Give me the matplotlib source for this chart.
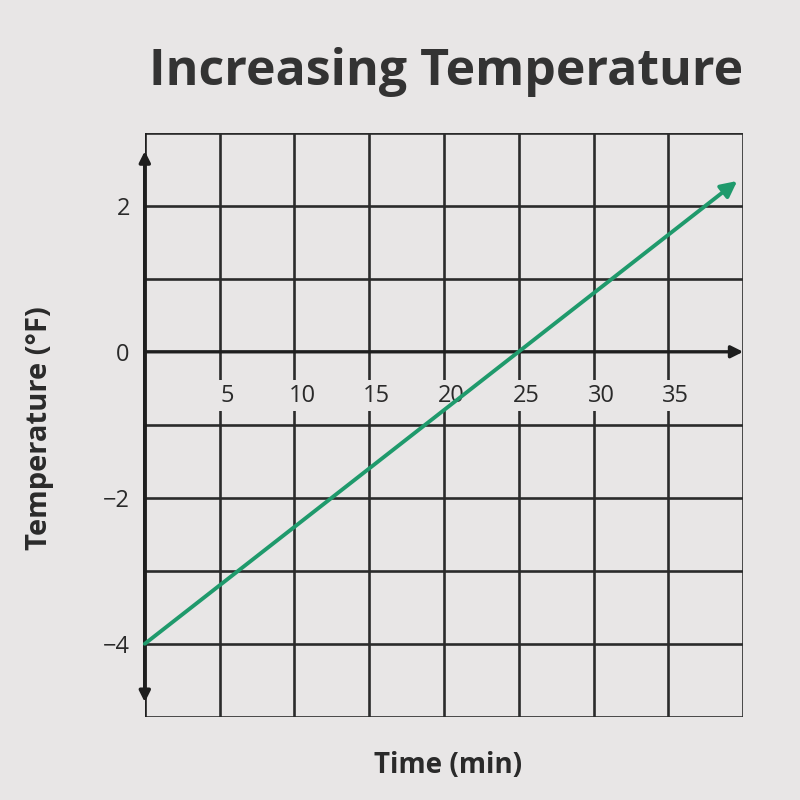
import numpy as np
import matplotlib.pyplot as plt

# Data
times = [0, 25, 39.6]
temps = [-4, 0, 2.34]
x_ticks = [5, 10, 15, 20, 25, 30, 35]
y_ticks = [2, 0, -2, -4]
y_tick_labels = ['2', '0', '\u22122', '\u22124']

bg = '#e8e6e6'
grid_col = '#2b2b2b'
green = '#1f9a6c'

plt.rcParams['font.family'] = ['Open Sans', 'DejaVu Sans']

fig = plt.figure(figsize=(8, 8), dpi=100, facecolor=bg)
ax = fig.add_axes([0.181, 0.104, 0.748, 0.730])
ax.set_facecolor(bg)
ax.set_xlim(0, 40)
ax.set_ylim(-5, 3)

# grid and box
for gx in range(5, 41, 5):
    ax.axvline(gx, color=grid_col, lw=1.9, zorder=1)
for gy in range(-5, 4):
    if gy != 0:
        ax.axhline(gy, color=grid_col, lw=1.9, zorder=1)
for s in ax.spines.values():
    s.set_visible(False)
ax.axvline(0, color='#1e1e1e', lw=2.6, zorder=3)
ax.set_xticks([])
ax.set_yticks([])

# axes with arrows
ax.annotate('', xy=(40, 0), xytext=(0, 0),
            arrowprops=dict(arrowstyle='-|>', color='#1e1e1e', lw=2.4,
                            mutation_scale=18, shrinkA=0, shrinkB=0), zorder=3)
ax.annotate('', xy=(0, 2.75), xytext=(0, -1),
            arrowprops=dict(arrowstyle='-|>', color='#1e1e1e', lw=2.6,
                            mutation_scale=16, shrinkA=0, shrinkB=0), zorder=3)
ax.annotate('', xy=(0, -4.8), xytext=(0, -1),
            arrowprops=dict(arrowstyle='-|>', color='#1e1e1e', lw=2.6,
                            mutation_scale=16, shrinkA=0, shrinkB=0), zorder=3)

# tick labels
for t in x_ticks:
    ax.text(t + 0.5, -0.6, str(t), ha='center', va='center', fontsize=17,
            color='#2a2a2a', zorder=2,
            bbox=dict(boxstyle='square,pad=0.15', fc=bg, ec='none'))
for v, lab in zip(y_ticks, y_tick_labels):
    ax.text(-1.0, v - 0.05, lab, ha='right', va='center', fontsize=17,
            color='#2a2a2a', clip_on=False)

# temperature line
ax.annotate('', xy=(times[-1], temps[-1]), xytext=(times[0], temps[0]),
            arrowprops=dict(arrowstyle='-|>', color=green, lw=2.8,
                            mutation_scale=24, shrinkA=0, shrinkB=0), zorder=4)

fig.text(0.557, 0.91, 'Increasing Temperature', ha='center', va='center',
         fontsize=36, fontweight='bold', color='#333333')
fig.text(0.56, 0.043, 'Time (min)', ha='center', va='center',
         fontsize=20, fontweight='bold', color='#2a2a2a')
fig.text(0.05, 0.465, 'Temperature (\u00b0F)', ha='center', va='center',
         fontsize=21, fontweight='bold', color='#2a2a2a', rotation=90)

fig.savefig('out.png', dpi=100, facecolor=bg)
